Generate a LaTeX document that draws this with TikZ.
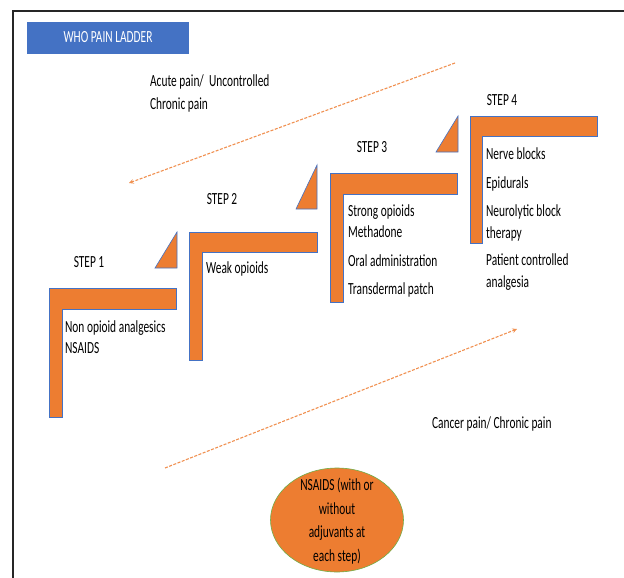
\documentclass[tikz,border=0pt]{standalone}
\usepackage{fontspec}
\setmainfont{Carlito}
\usetikzlibrary{positioning}
\usetikzlibrary{shapes.geometric}
\usetikzlibrary{arrows}

\definecolor{stairorange}{RGB}{237,125,49}
\definecolor{edgeblue}{RGB}{68,114,196}
\definecolor{ovalgreen}{RGB}{112,173,71}

\begin{document}
\begin{tikzpicture}
	[x=1pt,y=-1pt,
	lbl/.style={font=\fontsize{17}{22}\selectfont, xscale=0.67, transform shape, inner sep=0pt},
	heading/.style={lbl, anchor=base},
	item/.style={lbl, anchor=base west, align=left},
	stair/.style={fill=stairorange, draw=edgeblue, line width=0.6pt},
	flow/.style={->, >=stealth, draw=stairorange!85!white, dash pattern=on 3pt off 1.5pt, line width=1.1pt},
	oval/.style={ellipse, fill=stairorange, draw=ovalgreen, line width=0.6pt, minimum width=133pt, minimum height=104pt, inner sep=0pt}]

\useasboundingbox (0,0) rectangle (624,578);
\draw [line width=1.8pt, black!85] (13,578) -- (13,11) -- (624,11);

\fill [edgeblue] (27,22) rectangle (189,54);
\node [heading, white] (title) at (108,43) {WHO PAIN LADDER};

% base of a multi-line node is its last line
\node [item] (acute) at (150,109) {Acute pain/\ \ Uncontrolled\\Chronic pain};
\coordinate (acuteTop) at (455,63);
\coordinate (acuteEnd) at (129,183);
\draw [flow] (acuteTop) -- (acuteEnd);

% step 1
\filldraw [stair] (49,288) -- (176,288) -- (176,309) -- (62,309) -- (62,417) -- (49,417) -- cycle;
\filldraw [stair] (177,232) -- (177,268) -- (155,268) -- cycle;
\node [heading] (step1) at (89,267) {STEP 1};
\node [item] (nonopioid) at (65,353) {Non opioid analgesics\\[-1pt]NSAIDS};

% step 2
\filldraw [stair] (189,232) -- (317,232) -- (317,252) -- (202,252) -- (202,360) -- (189,360) -- cycle;
\filldraw [stair] (317,165) -- (317,209) -- (296,209) -- cycle;
\node [heading] (step2) at (222,204) {STEP 2};
\node [item] (weak) at (206,273) {Weak opioids};

% step 3
\filldraw [stair] (330,173) -- (457,173) -- (457,194) -- (343,194) -- (343,302) -- (330,302) -- cycle;
\filldraw [stair] (458,116) -- (458,152) -- (436,152) -- cycle;
\node [heading] (step3) at (372,152) {STEP 3};
\node [item] (strong) at (348,237) {Strong opioids\\[-1pt]Methadone};
\node [item] (oral) at (348,266) {Oral administration};
\node [item] (patch) at (348,294) {Transdermal patch};

% step 4
\filldraw [stair] (470,116) -- (597,116) -- (597,136) -- (482,136) -- (482,243) -- (470,243) -- cycle;
\node [heading] (step4) at (502,106) {STEP 4};
\node [item] (nerve) at (486,159) {Nerve blocks};
\node [item] (epidural) at (486,188) {Epidurals};
\node [item] (neuro) at (486,238) {Neurolytic block\\therapy};
\node [item] (pca) at (486,287) {Patient controlled\\analgesia};

\coordinate (cancerStart) at (165,468);
\coordinate (cancerEnd) at (517,329);
\draw [flow] (cancerStart) -- (cancerEnd);
\node [item] (cancer) at (432,428) {Cancer pain/ Chronic pain};

\node [oval] (nsaids) at (337,520) {};
\node [lbl, anchor=base, align=center, font=\fontsize{17}{23.5}\selectfont] (nsaidsText) at (337,561) {NSAIDS (with or\\without\\adjuvants at\\each step)};

\end{tikzpicture}
\end{document}
